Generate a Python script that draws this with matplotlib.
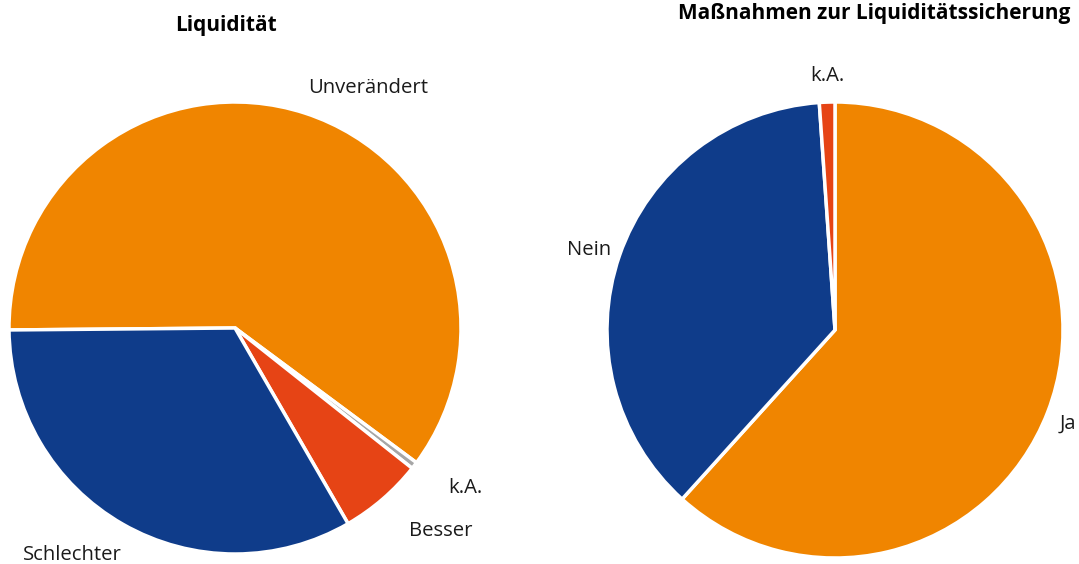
import numpy as np
import matplotlib
matplotlib.use('Agg')
import matplotlib.pyplot as plt

plt.rcParams['font.family'] = ['Open Sans', 'DejaVu Sans']

# Liquidität
liq_labels = ['Unverändert', 'k.A.', 'Besser', 'Schlechter']
liq_values = [60.3, 0.5, 6.0, 33.2]
liq_colors = ['#F08500', '#A6A6A6', '#E64415', '#0F3C8A']
liq_label_pos = [(0.588, 1.062), (1.018, -0.708), (0.912, -0.898), (-0.721, -1.004)]

# Maßnahmen zur Liquiditätssicherung
mas_labels = ['Ja', 'Nein', 'k.A.']
mas_values = [61.7, 37.2, 1.1]
mas_colors = ['#F08500', '#0F3C8A', '#E64415']
mas_label_pos = [(1.022, -0.412), (-1.079, 0.351), (-0.035, 1.114)]

W, H = 1079, 564
fig = plt.figure(figsize=(W / 100, H / 100), dpi=100)


def pie_axes(cx, cy, r):
	return fig.add_axes([(cx - r) / W, (H - cy - r) / H, 2 * r / W, 2 * r / H])


def draw_pie(ax, values, colors, labels, label_pos, startangle):
	ax.pie(values, colors=colors, startangle=startangle, counterclock=False,
		   radius=1, wedgeprops=dict(edgecolor='white', linewidth=2.5))
	for lab, (x, y) in zip(labels, label_pos):
		ax.text(x, y, lab, ha='center', va='center', fontsize=14.6, color='#1a1a1a')
	ax.set_xlim(-1, 1)
	ax.set_ylim(-1, 1)
	ax.set_aspect('equal')
	ax.axis('off')


ax1 = pie_axes(235, 328, 226)
draw_pie(ax1, liq_values, liq_colors, liq_labels, liq_label_pos, 180.5)
ax2 = pie_axes(835, 330, 228)
draw_pie(ax2, mas_values, mas_colors, mas_labels, mas_label_pos, 90)

fig.text(226 / W, 1 - 25 / H, 'Liquidität', ha='center', va='center',
		 fontsize=15, fontweight='bold')
fig.text(874 / W, 1 - 14 / H, 'Maßnahmen zur Liquiditätssicherung', ha='center',
		 va='center', fontsize=15, fontweight='bold')

fig.savefig('out.png', dpi=100)
